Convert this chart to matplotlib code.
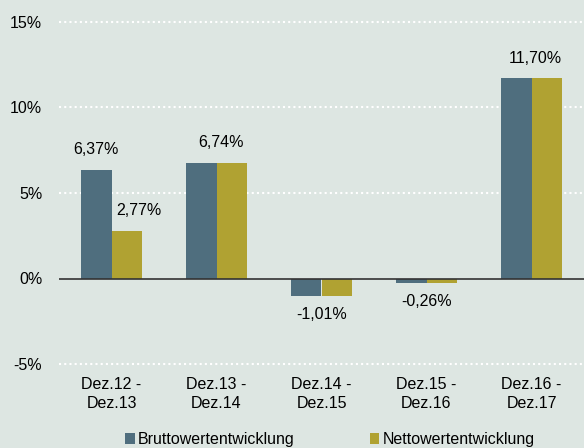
import numpy as np
import matplotlib.pyplot as plt

plt.rcParams['font.family'] = ['Liberation Sans', 'DejaVu Sans']

categories = ['Dez.12 -\nDez.13', 'Dez.13 -\nDez.14', 'Dez.14 -\nDez.15',
              'Dez.15 -\nDez.16', 'Dez.16 -\nDez.17']
brutto = [6.37, 6.74, -1.01, -0.26, 11.70]
netto = [2.77, 6.74, -1.01, -0.26, 11.70]
yticks = [-5, 0, 5, 10, 15]

bg = '#dde6e2'
c_brutto = '#4f6e7e'
c_netto = '#b0a232'
fs = 11.5

fig = plt.figure(figsize=(5.84, 4.48), dpi=100, facecolor=bg)
ax = fig.add_axes([59/584, 1-364/448, 1-59/584, (364-22)/448])
ax.set_facecolor(bg)

x = np.arange(len(categories))
w = 0.29
ax.bar(x - w/2, brutto, w, color=c_brutto, label='Bruttowertentwicklung', zorder=3)
ax.bar(x + w/2, netto, w, color=c_netto, label='Nettowertentwicklung', zorder=3)

def fmt(v):
    return ('%.2f' % v).replace('.', ',') + '%'

for i in range(len(categories)):
    b, n = brutto[i], netto[i]
    if b == n:
        if b >= 0:
            ax.text(x[i] + 0.04, b + 0.75, fmt(b), ha='center', va='bottom', fontsize=fs)
        else:
            ax.text(x[i], b - 0.65, fmt(b), ha='center', va='top', fontsize=fs)
    else:
        ax.text(x[i] - w/2, b + 0.75, fmt(b), ha='center', va='bottom', fontsize=fs)
        ax.text(x[i] + w/2 + 0.12, n + 0.75, fmt(n), ha='center', va='bottom', fontsize=fs)

ax.set_xlim(-0.5, len(categories) - 0.5)
ax.set_ylim(-5, 15)
ax.set_yticks(yticks)
ax.set_yticklabels([f'{t}%' for t in yticks], fontsize=fs)
ax.set_xticks(x)
ax.set_xticklabels(categories, fontsize=fs, linespacing=1.4)
ax.tick_params(length=0, pad=12, axis='y')
ax.tick_params(length=0, pad=9, axis='x')
for s in ax.spines.values():
    s.set_visible(False)
for t in [-5, 5, 10, 15]:
    ax.axhline(t, color='white', linestyle=(0, (1, 1.5)), linewidth=1.5, zorder=1, clip_on=False)
ax.axhline(0, color='#333333', linewidth=1.2, zorder=4)

fig.legend(loc='lower center', bbox_to_anchor=(0.565, -0.03), ncol=2, frameon=False,
           fontsize=fs, handlelength=0.6, handleheight=0.6, handletextpad=0.2,
           columnspacing=4.7)

fig.savefig('out.png', facecolor=bg)
